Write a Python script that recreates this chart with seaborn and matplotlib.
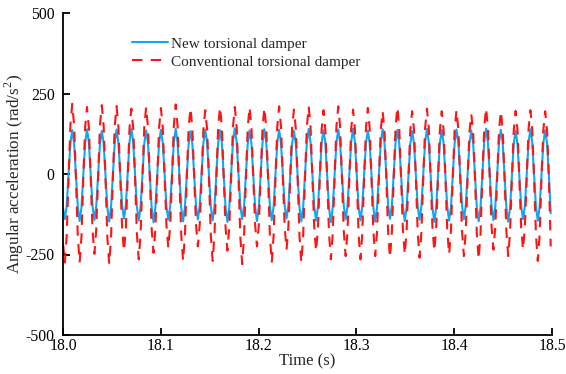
import numpy as np
import pandas as pd
import matplotlib
matplotlib.use("Agg")
import matplotlib.pyplot as plt
import seaborn as sns

# ---- data ----
time_start = 18.0
time_step = 0.001889  # sampling step of the traces (s)

new_damper = [
    -105, -140, -99, -3, 95, 136, 96, -4,
    -102, -146, -103, -5, 97, 139, 98, -2,
    -101, -143, -100, -4, 94, 134, 95, -5,
    -104, -148, -103, -3, 97, 138, 97, -3,
    -99, -139, -98, -2, 99, 141, 99, -4,
    -102, -145, -102, -5, 95, 135, 96, -3,
    -106, -150, -105, -4, 96, 137, 97, -2,
    -100, -142, -101, -3, 98, 140, 99, -5,
    -104, -147, -103, -4, 93, 133, 94, -3,
    -100, -141, -99, -2, 97, 138, 97, -4,
    -102, -144, -101, -5, 96, 136, 96, -3,
    -105, -149, -104, -3, 100, 142, 100, -2,
    -99, -140, -100, -4, 95, 135, 95, -5,
    -103, -146, -102, -3, 98, 139, 98, -4,
    -101, -143, -101, -2, 97, 137, 96, -3,
    -98, -138, -98, -5, 94, 134, 95, -4,
    -104, -147, -103, -3, 99, 140, 98, -2,
    -102, -145, -102, -4, 96, 136, 96, -5,
    -106, -150, -105, -3, 97, 138, 97, -3,
    -100, -141, -100, -2, 99, 141, 100, -4,
    -102, -144, -101, -5, 95, 135, 96, -3,
    -105, -148, -104, -4, 98, 139, 98, -2,
    -98, -139, -99, -3, 97, 137, 96, -5,
    -103, -146, -103, -4, 94, 133, 94, -3,
    -100, -142, -100, -2, 99, 140, 99, -4,
    -105, -149, -104, -5, 96, 136, 96, -3,
    -103, -145, -102, -3, 97, 138, 98, -2,
    -99, -140, -99, -4, 95, 135, 96, -5,
    -104, -147, -103, -3, 100, 141, 99, -4,
    -101, -143, -101, -2, 97, 137, 97, -3,
    -105, -148, -104, -5, 95, 134, 94, -4,
    -100, -141, -100, -3, 98, 139, 98, -2,
    -102, -145, -102, -4, 96, 136, 96, -3,
    -122,
]

conventional_damper = [
    -215, -275, -190, -12, 150, 218, 152, -14,
    -192, -275, -195, -10, 146, 208, 145, -15,
    -175, -248, -172, -13, 150, 214, 149, -12,
    -196, -280, -198, -11, 148, 211, 147, -16,
    -168, -240, -170, -14, 142, 203, 143, -13,
    -186, -265, -185, -10, 146, 208, 145, -15,
    -172, -245, -171, -12, 143, 205, 144, -11,
    -160, -230, -162, -13, 151, 216, 150, -14,
    -189, -270, -190, -11, 144, 205, 143, -12,
    -158, -225, -157, -15, 139, 198, 139, -13,
    -189, -270, -188, -10, 146, 208, 145, -14,
    -167, -238, -166, -12, 146, 208, 146, -11,
    -196, -280, -195, -14, 145, 208, 146, -15,
    -158, -225, -158, -11, 144, 206, 144, -12,
    -193, -275, -192, -13, 147, 210, 147, -14,
    -165, -235, -164, -10, 140, 200, 141, -13,
    -193, -275, -192, -12, 147, 210, 146, -15,
    -168, -240, -168, -14, 139, 198, 138, -11,
    -186, -265, -185, -11, 147, 210, 147, -13,
    -179, -255, -178, -13, 140, 200, 140, -12,
    -186, -265, -185, -10, 144, 205, 143, -14,
    -179, -255, -178, -12, 137, 195, 136, -15,
    -182, -260, -181, -14, 146, 208, 145, -11,
    -175, -250, -175, -11, 137, 195, 136, -13,
    -182, -260, -182, -13, 142, 203, 142, -12,
    -168, -240, -167, -10, 137, 195, 137, -14,
    -175, -250, -174, -12, 139, 198, 138, -15,
    -179, -255, -178, -14, 130, 186, 131, -11,
    -186, -265, -185, -11, 144, 205, 143, -13,
    -165, -235, -164, -13, 137, 195, 136, -12,
    -179, -255, -178, -10, 137, 196, 138, -14,
    -165, -235, -165, -12, 139, 198, 138, -15,
    -189, -270, -188, -11, 137, 195, 136, -13,
    -225,
]

series_names = ["New torsional damper", "Conventional torsional damper"]
series_colors = ["#12A6F2", "#FF1414"]
x_ticks = [18.0, 18.1, 18.2, 18.3, 18.4, 18.5]
y_ticks = [-500, -250, 0, 250, 500]

time = time_start + time_step * np.arange(len(new_damper))
df = pd.DataFrame({
    "Time": np.concatenate([time, time]),
    "Value": new_damper + conventional_damper,
    "Series": [series_names[0]] * len(new_damper) + [series_names[1]] * len(conventional_damper),
})

sns.set_theme(style="ticks")
plt.rcParams["font.family"] = ["Liberation Serif", "DejaVu Serif"]
plt.rcParams["mathtext.fontset"] = "custom"
plt.rcParams["mathtext.rm"] = "Liberation Serif"

fig = plt.figure(figsize=(5.66, 3.74), dpi=100)
ax = fig.add_axes([63 / 566, 1 - 335 / 374, (552 - 63) / 566, (335 - 13) / 374])

sns.lineplot(data=df, x="Time", y="Value", hue="Series", style="Series",
             hue_order=series_names, style_order=series_names,
             palette=series_colors, dashes=["", (5, 4)],
             linewidth=1.5, ax=ax, estimator=None, sort=False)

ax.set_xlim(18.0, 18.5)
ax.set_ylim(-500, 500)
ax.set_xticks(x_ticks)
ax.set_xticklabels([f"{v:.1f}" for v in x_ticks])
ax.set_yticks(y_ticks)
ax.set_yticklabels([str(v) for v in y_ticks])
ax.tick_params(direction="in", length=5, width=1.3, labelsize=11.3, colors="black")
ax.tick_params(axis="x", pad=2)
ax.tick_params(axis="y", pad=6)
for side in ["top", "right"]:
    ax.spines[side].set_visible(False)
for side in ["left", "bottom"]:
    ax.spines[side].set_linewidth(1.3)
    ax.spines[side].set_color("black")

ax.set_xlabel("Time (s)", fontsize=12, labelpad=0)
ax.set_ylabel("Angular acceleration (rad/s$^2$)", fontsize=12.3, labelpad=0)

leg = ax.legend(loc="upper left", bbox_to_anchor=(0.128, 0.945), frameon=False,
                fontsize=11, handlelength=2.4, handletextpad=0.15, labelspacing=0.3,
                borderaxespad=0)

fig.savefig("out.png", dpi=100)
